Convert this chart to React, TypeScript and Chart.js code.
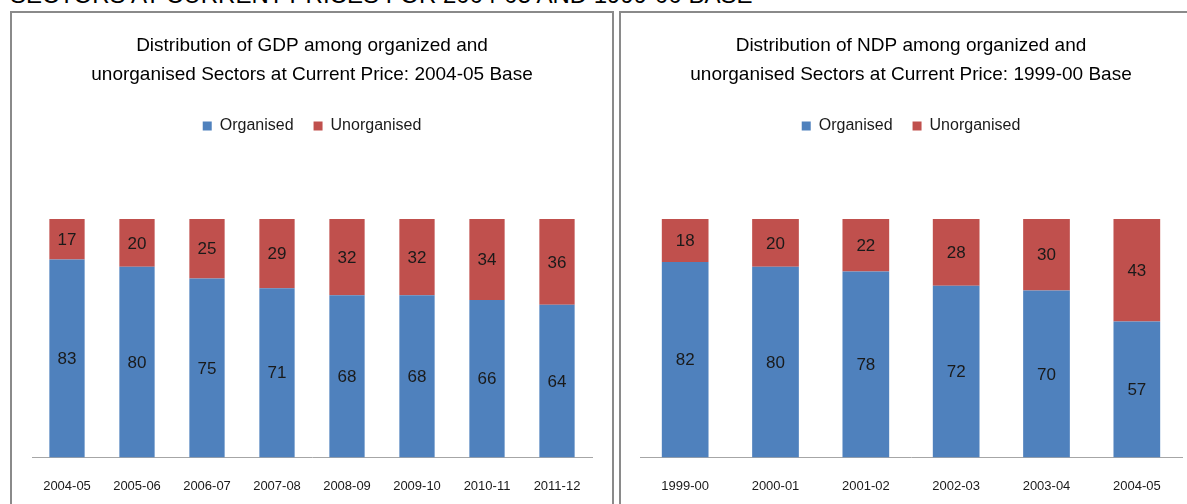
import React, { useEffect, useRef } from 'react';
import { Chart, registerables } from 'chart.js';

Chart.register(...registerables);

const headerText = 'SECTORS AT CURRENT PRICES FOR 2004-05 AND 1999-00 BASE';
const seriesNames = ['Organised', 'Unorganised'];

const gdpTitle = ['Distribution of GDP among organized and', 'unorganised Sectors at Current Price: 2004-05 Base'];
const gdpYears = ['2004-05', '2005-06', '2006-07', '2007-08', '2008-09', '2009-10', '2010-11', '2011-12'];
const gdpOrganised = [83, 80, 75, 71, 68, 68, 66, 64];
const gdpUnorganised = [17, 20, 25, 29, 32, 32, 34, 36];

const ndpTitle = ['Distribution of NDP among organized and', 'unorganised Sectors at Current Price: 1999-00 Base'];
const ndpYears = ['1999-00', '2000-01', '2001-02', '2002-03', '2003-04', '2004-05'];
const ndpOrganised = [82, 80, 78, 72, 70, 57];
const ndpUnorganised = [18, 20, 22, 28, 30, 43];

const BLUE = '#4F81BD';
const RED = '#C0504D';
const FONT = '"Liberation Sans", Arial, sans-serif';

const valueLabels = {
  id: 'valueLabels',
  afterDatasetsDraw(chart: any) {
    const ctx = chart.ctx;
    ctx.save();
    ctx.font = `17px ${FONT}`;
    ctx.fillStyle = '#1a1a1a';
    ctx.textAlign = 'center';
    ctx.textBaseline = 'middle';
    chart.data.datasets.forEach((ds: any, i: number) => {
      const meta = chart.getDatasetMeta(i);
      meta.data.forEach((el: any, j: number) => {
        const p = el.getProps(['x', 'y', 'base'], true);
        ctx.fillText(String(ds.data[j]), p.x, (p.y + p.base) / 2 + 1);
      });
    });
    ctx.restore();
  },
};

type Props = {
  title: string[];
  labels: string[];
  organised: number[];
  unorganised: number[];
  width: number;
  height: number;
  padLeft: number;
  padRight: number;
  barPct: number;
};

function StackedChart({ title, labels, organised, unorganised, width, height, padLeft, padRight, barPct }: Props) {
  const ref = useRef<HTMLCanvasElement>(null);
  useEffect(() => {
    if (!ref.current) return;
    const chart = new Chart(ref.current, {
      type: 'bar',
      data: {
        labels,
        datasets: [
          { label: seriesNames[0], data: organised, backgroundColor: BLUE, borderWidth: 0, barPercentage: barPct, categoryPercentage: 1 },
          { label: seriesNames[1], data: unorganised, backgroundColor: RED, borderWidth: 0, barPercentage: barPct, categoryPercentage: 1 },
        ],
      },
      options: {
        responsive: false,
        animation: false,
        events: [],
        layout: { padding: { left: padLeft, right: padRight, top: 0, bottom: 0 } },
        scales: {
          x: {
            stacked: true,
            grid: { display: false, drawTicks: false },
            border: { display: true, color: '#A6A6A6', width: 1 },
            ticks: { color: '#1a1a1a', font: { family: FONT, size: 13 }, padding: 21, maxRotation: 0, autoSkip: false },
          },
          y: {
            stacked: true,
            display: false,
            min: 0,
            max: 100,
          },
        },
        plugins: {
          tooltip: { enabled: false },
          title: {
            display: true,
            text: title,
            color: '#000',
            font: { family: FONT, size: 19, weight: 'normal', lineHeight: '29px' } as any,
            padding: { top: 18, bottom: 9 },
          },
          legend: {
            display: true,
            position: 'top',
            labels: {
              boxWidth: 9,
              boxHeight: 9,
              padding: 20,
              color: '#1a1a1a',
              font: { family: FONT, size: 16 },
            },
          },
          subtitle: {
            display: true,
            text: '',
            weight: 500,
            font: { size: 1, lineHeight: 1 },
            padding: { top: 0, bottom: 74 },
          } as any,
        },
      },
      plugins: [valueLabels],
    });
    return () => chart.destroy();
  }, []);
  return <canvas ref={ref} width={width} height={height} style={{ display: 'block', width, height }} />;
}

export default function App() {
  const boxStyle: React.CSSProperties = {
    position: 'absolute',
    top: 11,
    height: 520,
    border: '2px solid #8A8A8A',
    background: '#fff',
    overflow: 'hidden',
  };
  return (
    <div
      style={{
        position: 'fixed',
        left: 0,
        top: 0,
        width: 1187,
        height: 504,
        overflow: 'hidden',
        background: '#fff',
        fontFamily: FONT,
      }}
    >
      <div
        style={{
          position: 'absolute',
          left: 10,
          top: -17,
          fontSize: 24,
          lineHeight: '24px',
          whiteSpace: 'nowrap',
          color: '#000',
        }}
      >
        {headerText}
      </div>
      <div style={{ ...boxStyle, left: 10, width: 600 }}>
        <StackedChart
          title={gdpTitle}
          labels={gdpYears}
          organised={gdpOrganised}
          unorganised={gdpUnorganised}
          width={600}
          height={502}
          padLeft={20}
          padRight={20}
          barPct={0.504}
        />
      </div>
      <div style={{ ...boxStyle, left: 619, width: 580 }}>
        <StackedChart
          title={ndpTitle}
          labels={ndpYears}
          organised={ndpOrganised}
          unorganised={ndpUnorganised}
          width={580}
          height={502}
          padLeft={19}
          padRight={19}
          barPct={0.517}
        />
      </div>
    </div>
  );
}
